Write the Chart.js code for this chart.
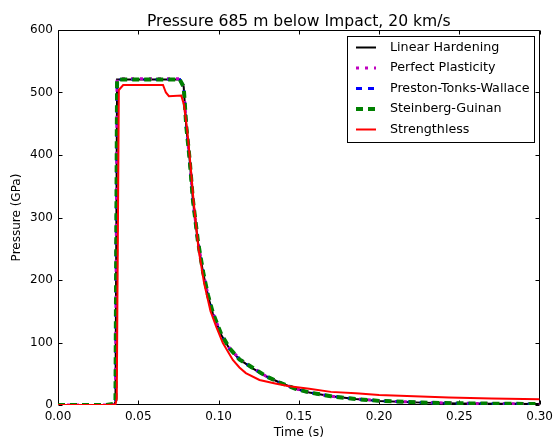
<!DOCTYPE html>
<html>
<head>
<meta charset="utf-8">
<script src="https://cdn.jsdelivr.net/npm/chart.js@4.4.0/dist/chart.umd.min.js"></script>
<style>
  html, body { margin: 0; padding: 0; background: #fff; }
</style>
</head>
<body>
<canvas id="chart" width="558" height="439"></canvas>
<script>
// values (time in s, pressure in GPa)
var strengthTimes = [0, 0.010, 0.020, 0.030, 0.0350, 0.0358, 0.0368, 0.040, 0.050, 0.060, 0.070, 0.0758,
    0.0783, 0.0799, 0.0820, 0.0840, 0.0871, 0.0903, 0.0934, 0.0965, 0.1017, 0.1068, 0.113, 0.121,
    0.1296, 0.138, 0.148, 0.1565, 0.170, 0.1855, 0.200, 0.227, 0.250, 0.275, 0.300];
var linearHardening = [0, 0, 0, 0, 1, 5, 521, 521, 521, 521, 521, 521,
    509, 445, 392, 328, 262, 213, 175, 146, 112, 90, 73, 59,
    46, 36, 26, 20, 14, 9.5, 6.5, 3.8, 2.6, 2, 1.6];
var perfectPlasticity = [0, 0, 0, 0, 1, 6, 522, 522, 522, 522, 522, 522,
    510, 446, 393, 329, 263, 214, 176, 147, 113, 91, 74, 60,
    46, 36, 26, 20, 14, 9.8, 6.8, 4, 2.8, 2.1, 1.7];
var prestonTonksWallace = [0, 0, 0, 0, 1, 6, 521, 521, 521, 521, 521, 521,
    509, 445, 392, 328, 262, 213, 175, 146, 112, 90, 73, 59,
    46, 36, 26, 20, 14, 9.5, 6.5, 3.8, 2.6, 2, 1.6];
var steinbergGuinan = [0, 0, 0, 0, 2, 8, 521, 521, 521, 521, 521, 521,
    509, 446, 393, 329, 263, 214, 176, 147, 113, 91, 73, 60,
    46, 36, 26, 20, 14, 9.6, 6.6, 3.9, 2.7, 2, 1.6];

var strengthlessTimes = [0, 0.010, 0.020, 0.030, 0.0358, 0.0366, 0.0379, 0.0406, 0.050, 0.060, 0.0654,
    0.0672, 0.0691, 0.0768, 0.0785, 0.0805, 0.0825, 0.0845, 0.0875, 0.0910, 0.0950, 0.0986, 0.1027,
    0.1089, 0.113, 0.117, 0.1255, 0.136, 0.144, 0.1565, 0.170, 0.1855, 0.200, 0.2435, 0.270, 0.300];
var strengthless = [0, 0, 0, 0, 1, 10, 504, 512, 512, 512, 512,
    500, 494, 495, 480, 440, 385, 325, 250, 195, 150, 125, 99,
    72, 60, 51, 40, 34, 30, 26, 21, 18.7, 16, 12, 10.5, 9.1];

var xTickValues = [0, 0.05, 0.10, 0.15, 0.20, 0.25, 0.30];
var yTickValues = [0, 100, 200, 300, 400, 500, 600];

var seriesNames = ["Linear Hardening", "Perfect Plasticity", "Preston-Tonks-Wallace", "Steinberg-Guinan", "Strengthless"];
var chartTitle = "Pressure 685 m below Impact, 20 km/s";

function toPoints(times, values) {
    return times.map(function (t, i) { return { x: t, y: values[i] }; });
}

var FONT = "'DejaVu Sans', sans-serif";

// looks of each line (matplotlib-ish)
var lineLooks = [
    { color: "#000000", width: 2, dash: [] },
    { color: "#bf00bf", width: 3, dash: [3, 6] },
    { color: "#0000ff", width: 3, dash: [6, 6] },
    { color: "#008000", width: 4, dash: [7, 5] },
    { color: "#ff0000", width: 2, dash: [] }
];

var allSeries = [
    toPoints(strengthTimes, linearHardening),
    toPoints(strengthTimes, perfectPlasticity),
    toPoints(strengthTimes, prestonTonksWallace),
    toPoints(strengthTimes, steinbergGuinan),
    toPoints(strengthlessTimes, strengthless)
];

let myDatasets = [];
allSeries.forEach((pts, i) => {
    myDatasets.push({
        label: seriesNames[i],
        data: pts,
        borderColor: lineLooks[i].color,
        borderWidth: lineLooks[i].width,
        borderDash: lineLooks[i].dash,
        borderCapStyle: "butt",
        pointRadius: 0,
        tension: 0,
        fill: false,
        order: 5 - i   // red on top, black at the bottom
    });
});

// frame + inward ticks on all four sides, title, legend
const framePlugin = {
    id: "frame",
    beforeDatasetsDraw(chart) {
        const ctx = chart.ctx;
        const a = chart.chartArea;
        const L = Math.round(a.left) + 0.5, R = Math.round(a.right) - 0.5;
        const T = Math.round(a.top) + 0.5, B = Math.round(a.bottom) - 0.5;
        ctx.save();
        ctx.strokeStyle = "#000";
        ctx.lineWidth = 1;
        ctx.beginPath();
        ctx.rect(L, T, R - L, B - T);
        chart.scales.x.ticks.forEach((t) => {
            let px = Math.round(chart.scales.x.getPixelForValue(t.value)) + 0.5;
            ctx.moveTo(px, B); ctx.lineTo(px, B - 4);
            ctx.moveTo(px, T); ctx.lineTo(px, T + 4);
        });
        chart.scales.y.ticks.forEach((t) => {
            let py = Math.round(chart.scales.y.getPixelForValue(t.value)) + 0.5;
            ctx.moveTo(L, py); ctx.lineTo(L + 4, py);
            ctx.moveTo(R, py); ctx.lineTo(R - 4, py);
        });
        ctx.stroke();
        ctx.restore();
    },
    afterDraw(chart) {
        const ctx = chart.ctx;
        const a = chart.chartArea;
        ctx.save();
        // title centred over the plot
        ctx.fillStyle = "#000";
        ctx.font = "15.6px " + FONT;
        ctx.textAlign = "center";
        ctx.textBaseline = "alphabetic";
        ctx.fillText(chartTitle, (a.left + a.right) / 2, 25.7);

        // legend box in the upper right of the plot
        ctx.fillStyle = "#fff";
        ctx.fillRect(347, 36, 188, 107);
        ctx.strokeStyle = "#000";
        ctx.lineWidth = 1;
        ctx.strokeRect(347.5, 36.5, 187, 106);
        ctx.font = "12.7px " + FONT;
        ctx.textBaseline = "middle";
        ctx.textAlign = "left";
        seriesNames.forEach((name, i) => {
            let y = 47.5 + i * 20.5;
            ctx.beginPath();
            ctx.strokeStyle = lineLooks[i].color;
            ctx.lineWidth = lineLooks[i].width;
            ctx.setLineDash(lineLooks[i].dash);
            ctx.moveTo(356, y);
            ctx.lineTo(376, y);
            ctx.stroke();
            ctx.setLineDash([]);
            ctx.fillStyle = "#000";
            ctx.fillText(name, 390, y);
        });
        ctx.restore();
    }
};

let config = {
    type: "line",
    data: { datasets: myDatasets },
    options: {
        responsive: false,
        animation: false,
        devicePixelRatio: 1,
        layout: { padding: { left: 0, right: 17, top: 30, bottom: 0 } },
        plugins: {
            legend: { display: false },
            tooltip: { enabled: false },
            title: { display: false }
        },
        scales: {
            x: {
                type: "linear",
                min: 0,
                max: 0.3,
                afterFit: function (s) { s.height = 34; },
                afterBuildTicks: function (s) { s.ticks = xTickValues.map((v) => ({ value: v })); },
                grid: { display: false, drawTicks: false },
                border: { display: false },
                ticks: {
                    color: "#000",
                    font: { family: FONT, size: 12 },
                    padding: 5,
                    maxRotation: 0,
                    autoSkip: false,
                    callback: function (value) { return value.toFixed(2); }
                },
                title: {
                    display: true,
                    text: "Time (s)",
                    color: "#000",
                    font: { family: FONT, size: 12.4 },
                    padding: { top: 0, bottom: -1 }
                }
            },
            y: {
                min: 0,
                max: 600,
                afterFit: function (s) { s.width = 58; },
                afterBuildTicks: function (s) { s.ticks = yTickValues.map((v) => ({ value: v })); },
                grid: { display: false, drawTicks: false },
                border: { display: false },
                ticks: {
                    color: "#000",
                    font: { family: FONT, size: 12 },
                    padding: 5
                },
                title: {
                    display: true,
                    text: "Pressure (GPa)",
                    color: "#000",
                    font: { family: FONT, size: 12 },
                    padding: { top: 10, bottom: 0 }
                }
            }
        }
    },
    plugins: [framePlugin]
};

const chart1 = new Chart(document.getElementById("chart"), config);
</script>
</body>
</html>
